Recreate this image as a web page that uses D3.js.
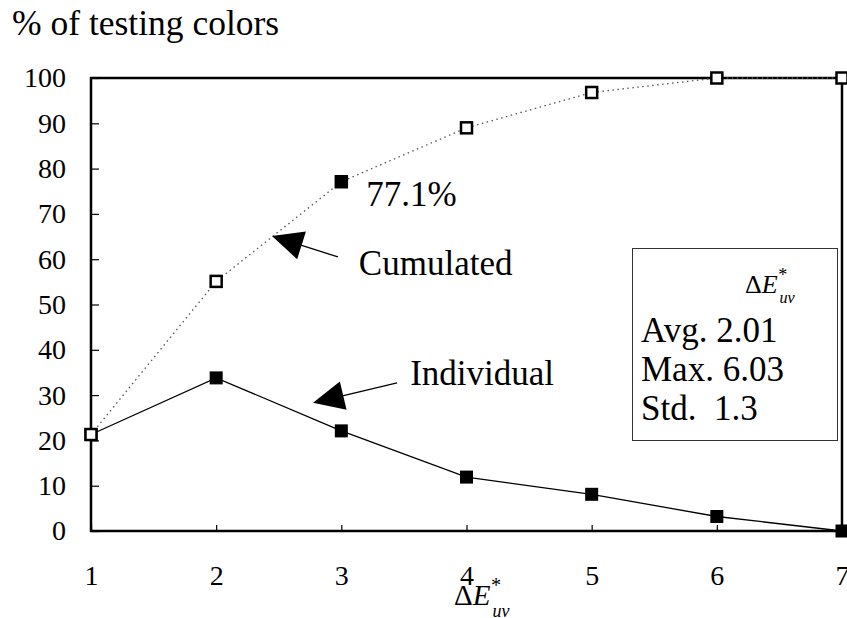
<!DOCTYPE html>
<html>
  <head>
    <meta charset="utf-8">
    <title>% of testing colors</title>
    <script src="https://d3js.org/d3.v7.min.js"></script>
    <style>
      body { margin: 0; background: #fff; }
      svg text { font-family: "Liberation Serif", "Times New Roman", serif; fill: #000; }
    </style>
  </head>
  <body>
    <svg id="chart" width="847" height="618" font-family="Liberation Serif"></svg>
    <script>
      // data
      var deltaE = [1, 2, 3, 4, 5, 6, 7];
      var individual = [21.3, 33.8, 22.1, 11.9, 8.1, 3.2, 0];
      var cumulated = [21.3, 55.1, 77.1, 89.0, 96.8, 100, 100];
      var filledCumulated = [false, false, true, false, false, false, false];
      var yTicks = [0, 10, 20, 30, 40, 50, 60, 70, 80, 90, 100];
      var xTicks = [1, 2, 3, 4, 5, 6, 7];
      var stats = ["Avg. 2.01", "Max. 6.03", "Std.  1.3"];

      var serif = "Liberation Serif";
      var svg = d3.select("#chart");
      var x = d3.scaleLinear().domain([1, 7]).range([91, 842]);
      var y = d3.scaleLinear().domain([0, 100]).range([531, 78]);

      // title
      svg.append("text")
        .attr("x", 12).attr("y", 35)
        .attr("font-family", serif)
        .style("font-size", "35.5px")
        .text("% of testing colors");

      // y axis
      var yAxis = svg.append("g")
        .attr("transform", "translate(" + x(1) + ",0)")
        .call(d3.axisLeft(y).tickValues(yTicks).tickFormat(d3.format("d"))
          .tickSize(-8).tickPadding(25));
      yAxis.attr("font-family", serif);
      yAxis.select(".domain").remove();
      yAxis.selectAll("line").attr("stroke", "#000").attr("stroke-width", 1.2);
      yAxis.selectAll("text")
        .attr("font-family", serif)
        .style("font-size", "28px");

      // x axis
      var xAxis = svg.append("g")
        .attr("transform", "translate(0," + y(0) + ")")
        .call(d3.axisBottom(x).tickValues(xTicks).tickFormat(d3.format("d")).tickSize(-6));
      xAxis.attr("font-family", serif);
      xAxis.select(".domain").remove();
      xAxis.selectAll("line").attr("stroke", "#000").attr("stroke-width", 1.2);
      xAxis.selectAll("text")
        .attr("y", 54).attr("dy", 0)
        .attr("font-family", serif)
        .style("font-size", "28px");

      // frame
      svg.append("rect")
        .attr("x", x(1)).attr("y", y(100))
        .attr("width", x(7) - x(1)).attr("height", y(0) - y(100))
        .attr("fill", "none").attr("stroke", "#000").attr("stroke-width", 2.5);

      // ΔE*uv label
      function deltaLabel(g, size) {
        var t = g.append("text").attr("font-family", serif).style("font-size", size + "px");
        t.append("tspan").text("Δ");
        t.append("tspan").style("font-style", "italic").text("E");
        t.append("tspan").attr("dx", size * 0.02).attr("dy", -size * 0.45)
          .style("font-size", (size * 0.7) + "px").text("*");
        t.append("tspan").attr("dx", -size * 0.3).attr("dy", size * 0.85)
          .style("font-style", "italic").style("font-size", (size * 0.62) + "px").text("uv");
        return t;
      }
      deltaLabel(svg.append("g").attr("transform", "translate(454,605)"), 29);

      // individual series
      var line = d3.line()
        .x(function(d, i) { return x(deltaE[i]); })
        .y(function(d) { return y(d); });
      var ms = 13;
      svg.append("path")
        .datum(individual)
        .attr("d", line)
        .attr("fill", "none").attr("stroke", "#000").attr("stroke-width", 1.3);
      svg.selectAll(".ind")
        .data(individual)
        .enter().append("rect")
          .attr("class", "ind")
          .attr("x", function(d, i) { return x(deltaE[i]) - ms / 2; })
          .attr("y", function(d) { return y(d) - ms / 2; })
          .attr("width", ms).attr("height", ms)
          .attr("fill", "#000");

      // cumulated series
      svg.append("path")
        .datum(cumulated)
        .attr("d", line)
        .attr("fill", "none").attr("stroke", "#555").attr("stroke-width", 1.3)
        .attr("stroke-dasharray", "1.5,3.5");
      svg.selectAll(".cum")
        .data(cumulated)
        .enter().append("rect")
          .attr("class", "cum")
          .attr("x", function(d, i) { return x(deltaE[i]) - (ms - 2) / 2; })
          .attr("y", function(d) { return y(d) - (ms - 2) / 2; })
          .attr("width", ms - 2).attr("height", ms - 2)
          .attr("fill", function(d, i) { return filledCumulated[i] ? "#000" : "#fff"; })
          .attr("stroke", "#000").attr("stroke-width", 2.5);

      // 77.1% label
      svg.append("text")
        .attr("x", x(3) + 25).attr("y", y(77.1) + 24)
        .attr("font-family", serif)
        .style("font-size", "35px")
        .text("77.1%");

      // arrows with labels
      var notes = [
        { label: "Cumulated", tip: [2.446, 65.1], tail: [2.973, 60.5], text: [3.14, 56.5] },
        { label: "Individual", tip: [2.774, 28.3], tail: [3.445, 32.7], text: [3.55, 32.2] }
      ];
      notes.forEach(function(n) {
        var tx = x(n.tip[0]), ty = y(n.tip[1]);
        var ex = x(n.tail[0]), ey = y(n.tail[1]);
        var dx = ex - tx, dy = ey - ty, len = Math.sqrt(dx * dx + dy * dy);
        var ux = dx / len, uy = dy / len;
        var hl = 31, hw = 14.5;
        var bx = tx + ux * hl, by = ty + uy * hl;
        svg.append("line")
          .attr("x1", bx - ux * 4).attr("y1", by - uy * 4)
          .attr("x2", ex).attr("y2", ey)
          .attr("stroke", "#000").attr("stroke-width", 1.3);
        svg.append("path")
          .attr("d", "M" + tx + "," + ty +
            "L" + (bx - uy * hw) + "," + (by + ux * hw) +
            "L" + (bx + uy * hw) + "," + (by - ux * hw) + "Z")
          .attr("fill", "#000");
        svg.append("text")
          .attr("x", x(n.text[0])).attr("y", y(n.text[1]))
          .attr("font-family", serif)
          .style("font-size", "35px")
          .text(n.label);
      });

      // statistics box
      svg.append("rect")
        .attr("x", 632.5).attr("y", 248.5)
        .attr("width", 205).attr("height", 192)
        .attr("fill", "#fff").attr("stroke", "#333").attr("stroke-width", 1);
      deltaLabel(svg.append("g").attr("transform", "translate(745,293)"), 26);
      svg.selectAll(".stat")
        .data(stats)
        .enter().append("text")
          .attr("class", "stat")
          .attr("x", 641)
          .attr("y", function(d, i) { return 342 + i * 39; })
          .attr("font-family", serif)
          .style("white-space", "pre")
          .style("font-size", "35px")
          .text(function(d) { return d; });
    </script>
  </body>
</html>
